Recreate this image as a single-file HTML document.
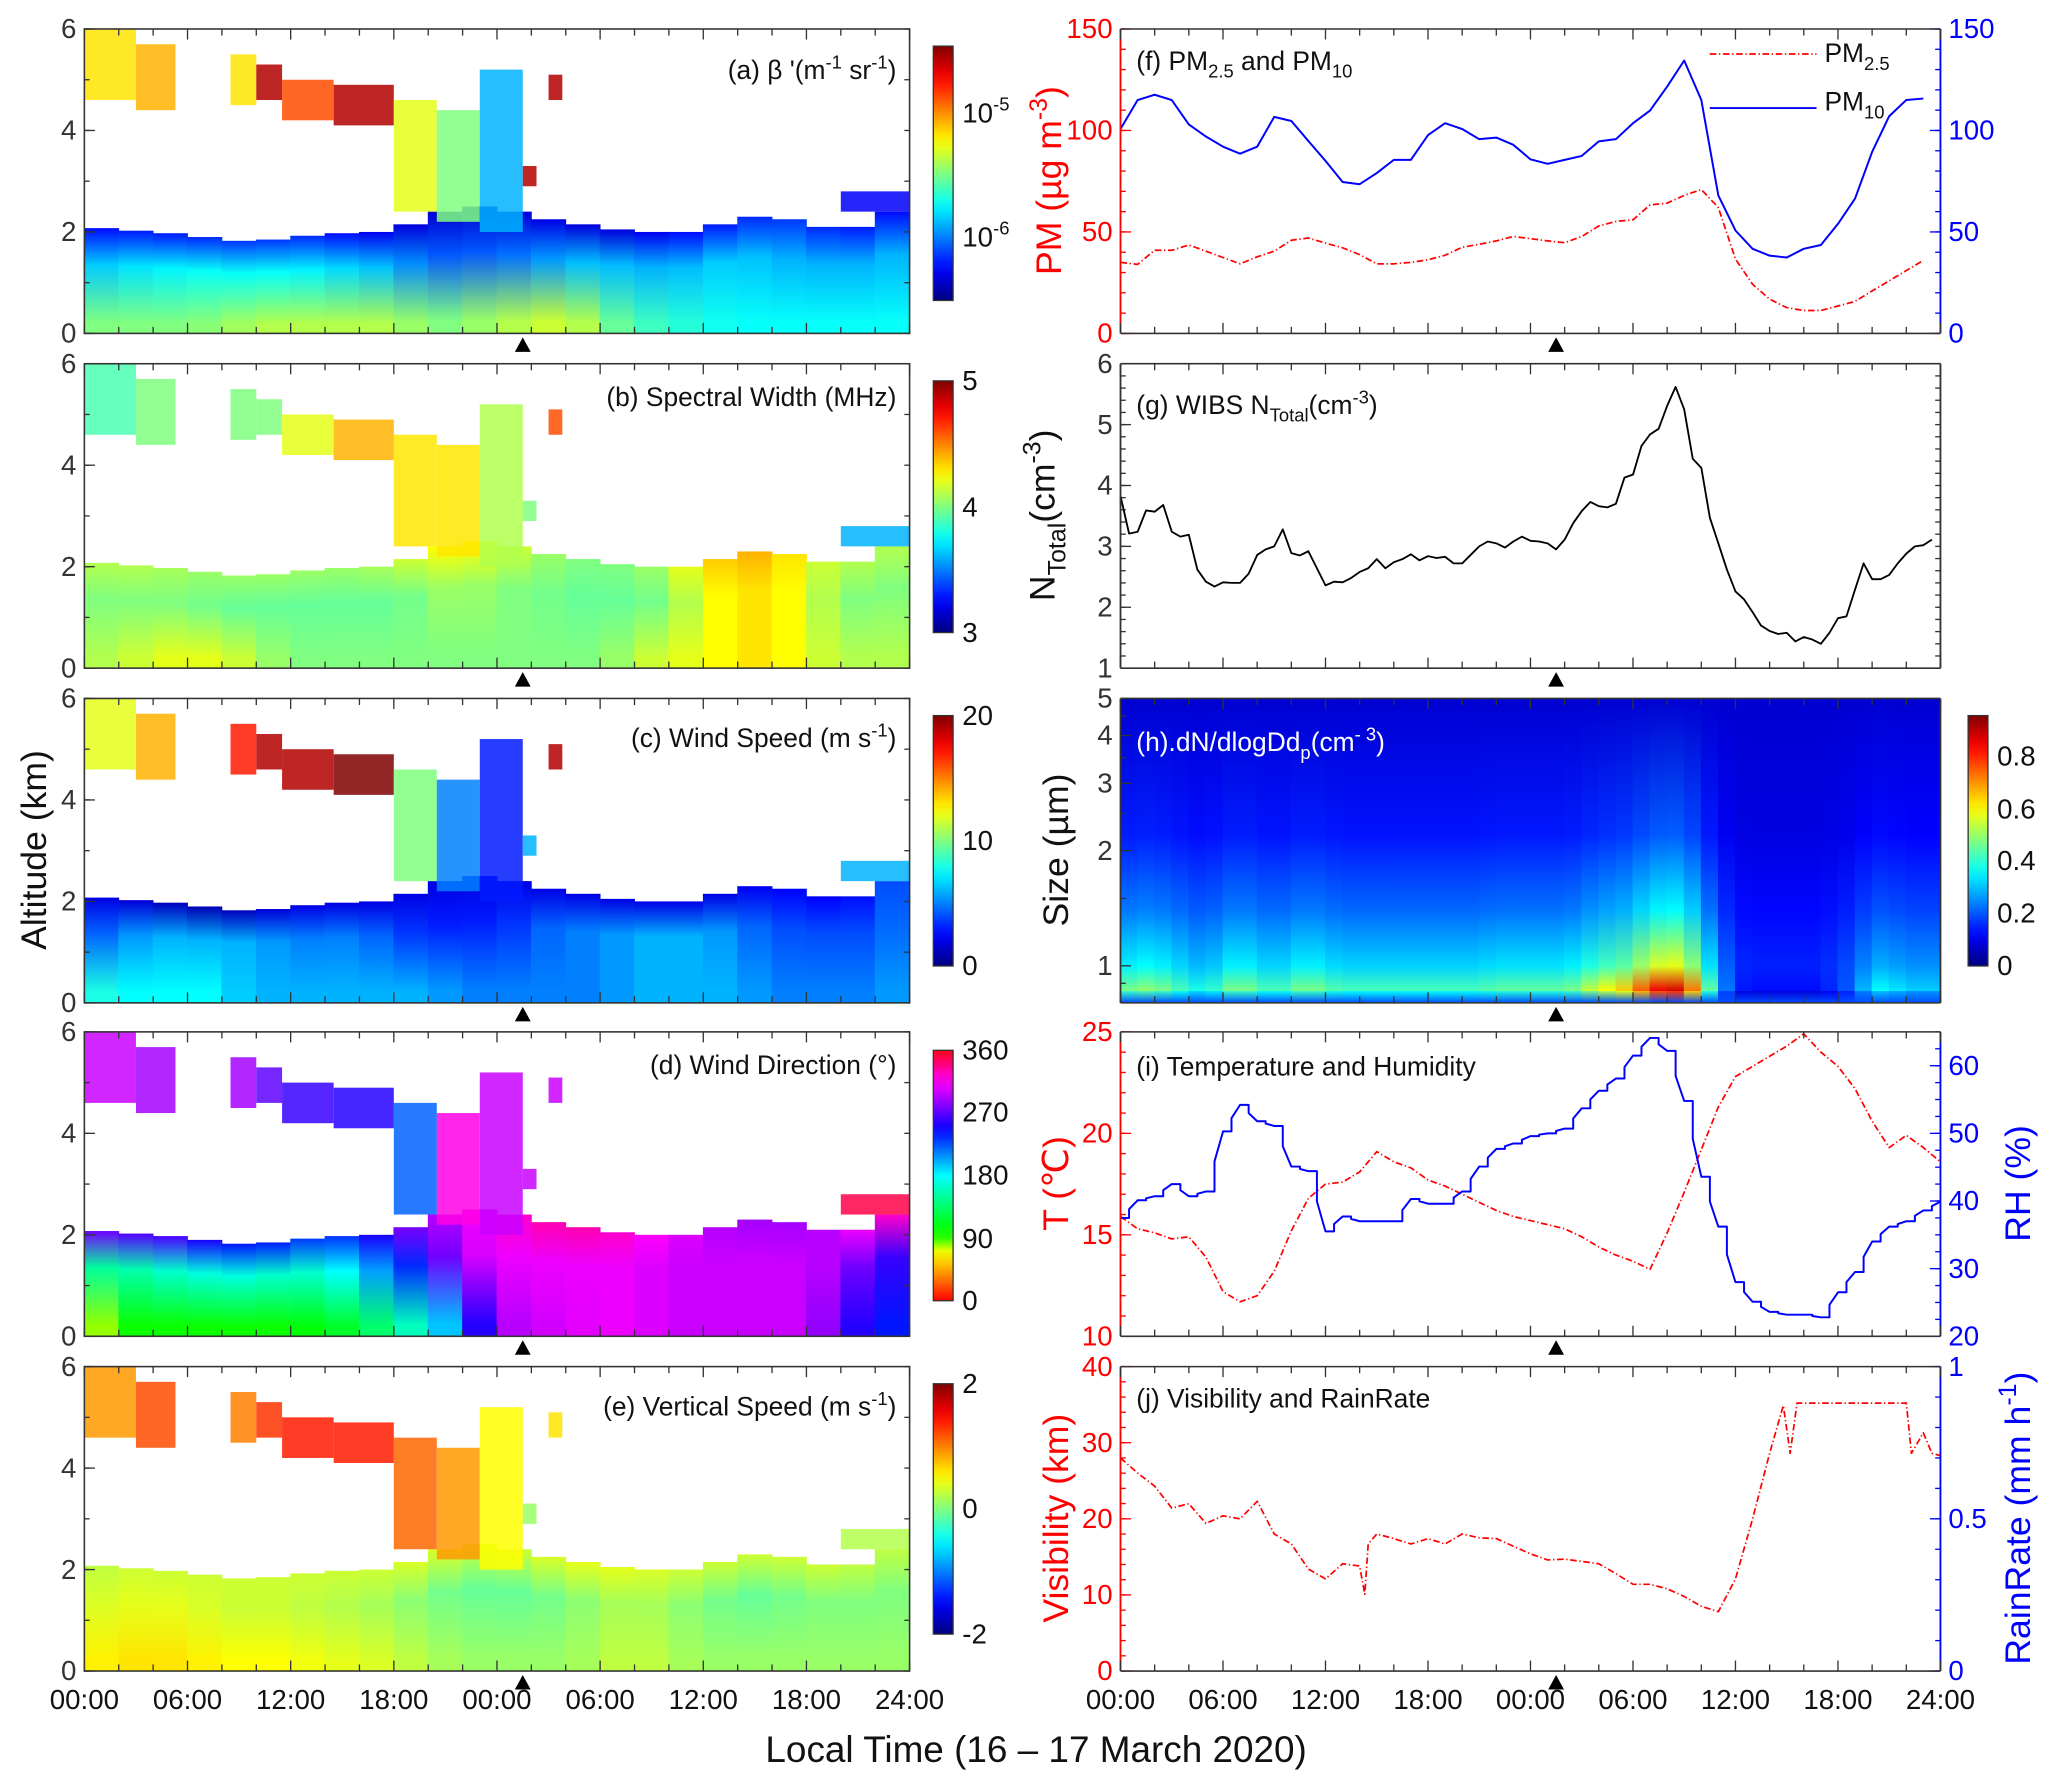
<!DOCTYPE html>
<html><head><meta charset="utf-8"><title>Lidar and surface observations</title>
<style>
html,body{margin:0;padding:0;background:#fff;}
svg{display:block;font-family:"Liberation Sans",Arial,sans-serif;}
</style></head>
<body>
<svg id="fig" xmlns="http://www.w3.org/2000/svg" width="2067" height="1787" viewBox="0 0 1568 1356" preserveAspectRatio="none">
<defs id="defs"></defs>
</svg>
<script>
// ---------------- DATA ----------------
const xTickLabels = ["00:00","06:00","12:00","18:00","00:00","06:00","12:00","18:00","24:00"];
// boundary-layer top height (km), every 2 h, 0..48 h
const blHeight = [2.1,2.05,2.0,1.95,1.85,1.8,1.9,1.95,2.0,2.0,2.3,2.5,2.5,2.3,2.2,2.1,2.0,2.0,2.0,2.3,2.3,2.2,2.0,2.2,2.6];
// cloud/upper-layer patches [t0,t1,z0,z1]
const cloudT0 = [0,3,8.5,10,11.5,14.5,18,20.5,23,25.5,27,44];
const cloudT1 = [3,5.3,10,11.5,14.5,18,20.5,23,25.5,26.3,27.8,48];
const cloudZ0 = [4.6,4.4,4.5,4.6,4.2,4.1,2.4,2.2,2.0,2.9,4.6,2.4];
const cloudZ1 = [6,5.7,5.5,5.3,5.0,4.9,4.6,4.4,5.2,3.3,5.1,2.8];
// panel (a) normalised log backscatter (0..1)
const aBottom = [0.5,0.5,0.5,0.5,0.52,0.55,0.55,0.55,0.55,0.55,0.5,0.5,0.55,0.55,0.6,0.5,0.45,0.42,0.4,0.38,0.38,0.38,0.38,0.38,0.38];
const aMid = [0.3,0.35,0.35,0.38,0.38,0.38,0.38,0.35,0.33,0.3,0.22,0.2,0.22,0.25,0.3,0.32,0.3,0.3,0.32,0.33,0.3,0.3,0.3,0.3,0.3];
const aTop = [0.12,0.15,0.15,0.15,0.18,0.18,0.18,0.15,0.12,0.1,0.08,0.08,0.08,0.1,0.1,0.08,0.1,0.12,0.15,0.15,0.18,0.18,0.15,0.15,0.12];
const aCloud = [0.65,0.7,0.65,0.95,0.8,0.95,0.6,0.5,0.3,0.95,0.95,0.12];
// panel (b) spectral width (MHz)
const bBottom = [4.1,4.1,4.2,4.2,4.2,4.1,4.0,4.0,4.0,4.0,4.0,4.0,4.0,4.0,4.0,4.0,4.1,4.2,4.2,4.3,4.3,4.2,4.1,4.1,4.1];
const bMid = [4.0,4.0,4.0,4.0,3.95,3.95,3.95,3.95,3.95,3.95,4.0,4.1,4.0,4.0,3.95,3.95,3.95,4.0,4.2,4.3,4.3,4.2,4.0,4.0,4.0];
const bTop = [4.1,4.1,4.1,4.05,4.05,4.05,4.05,4.05,4.05,4.1,4.2,4.3,4.2,4.1,4.0,4.0,4.0,4.1,4.3,4.4,4.4,4.2,4.1,4.1,4.1];
const bCloud = [3.9,4.0,4.0,4.0,4.2,4.4,4.3,4.3,4.1,4.0,4.6,3.6];
// panel (c) wind speed (m/s)
const cBottom = [8,8,7,8,7,6,6,6,6,6,6,5,5,5,5,5,6,6,6,6,5,5,5,5,6];
const cMid = [4,5,6,6,6,6,5,5,5,4,3,3,3,4,5,5,6,6,6,5,4,4,4,4,5];
const cTop = [2,2,1.5,1,1,1.5,2,2,2,2,2,2,2,2,2,2,2,2,2,2,2.5,2.5,2.5,3,5];
const cCloud = [12,14,17,19,19,20,10,5,3,6,19,6];
// panel (d) wind direction (deg)
const dBottom = [60,100,100,100,100,100,100,110,120,150,170,220,290,300,305,310,310,300,300,300,300,300,270,240,240];
const dMid = [150,150,160,170,170,170,160,170,190,220,250,300,310,310,310,310,310,300,300,300,300,300,290,260,260];
const dTop = [280,270,265,265,240,240,235,225,240,265,290,300,320,330,330,330,320,310,300,290,290,290,300,320,330];
const dCloud = [300,290,290,270,260,255,220,320,300,300,300,350];
// panel (e) vertical speed (m/s)
const eBottom = [0.5,0.6,0.6,0.6,0.5,0.5,0.5,0.4,0.4,0.3,0.2,0.1,0.1,0.1,0.1,0.2,0.3,0.2,0.1,0.1,0.1,0.1,0.1,0.1,0.1];
const eMid = [0.3,0.4,0.4,0.4,0.3,0.3,0.3,0.2,0.2,0.1,0.0,-0.1,-0.1,-0.1,0.0,0.1,0.2,0.1,0.0,-0.1,-0.1,0.0,0.0,0.0,0.0];
const eTop = [0.2,0.3,0.3,0.3,0.3,0.3,0.3,0.3,0.3,0.3,0.4,0.3,0.3,0.3,0.4,0.4,0.4,0.3,0.3,0.3,0.3,0.3,0.3,0.2,0.3];
const eCloud = [0.9,1.2,1.0,1.3,1.4,1.4,1.1,0.9,0.5,0.1,0.6,0.2];
// (f) PM, hourly from 00:00 on 16 March
const pm10 = [100.7,115,117.6,115,103,97,92,88.6,92,106.7,104.7,94.8,85,74.6,73.5,79,85.5,85.5,97.7,103.6,100.7,95.7,96.5,92.9,85.8,83.6,85.5,87.5,94.6,95.7,103.6,109.8,121.6,134.5,115,68,50.7,41.7,38.3,37.4,41.7,43.6,54,66.4,89.5,107,115,115.7];
const pm25 = [35,34,41,41,43.6,40.5,37.4,34.3,37.7,40.5,45.9,47,44.5,42.2,38.8,34.3,34.3,35,36.3,38.5,42.5,43.9,45.6,47.8,46.7,45.6,44.7,47.8,52.9,55.2,56,63.3,64.2,68,70.9,62,36.6,24.2,16.9,12.7,11.3,11.3,13.5,15.8,21,25.9,31,36];
// (g) WIBS N_total, every 0.5 h
const nTotal = [3.83,3.21,3.24,3.59,3.57,3.68,3.24,3.16,3.19,2.62,2.42,2.34,2.41,2.40,2.40,2.55,2.86,2.95,3.0,3.28,2.89,2.85,2.92,2.64,2.36,2.42,2.41,2.48,2.58,2.64,2.79,2.64,2.74,2.79,2.87,2.77,2.84,2.81,2.83,2.72,2.72,2.86,3.0,3.08,3.05,2.98,3.08,3.16,3.09,3.08,3.05,2.95,3.11,3.38,3.58,3.73,3.66,3.64,3.70,4.13,4.18,4.65,4.84,4.93,5.31,5.62,5.25,4.44,4.29,3.47,3.05,2.62,2.26,2.13,1.92,1.70,1.61,1.56,1.58,1.44,1.51,1.47,1.40,1.58,1.82,1.85,2.29,2.72,2.46,2.46,2.53,2.72,2.88,3.0,3.02,3.11];
// (h) size distribution: near-ground intensity, hourly
const hBottom = [0.45,0.5,0.5,0.45,0.4,0.35,0.45,0.5,0.45,0.4,0.45,0.5,0.45,0.42,0.42,0.42,0.42,0.42,0.42,0.42,0.42,0.42,0.45,0.45,0.45,0.45,0.45,0.5,0.6,0.62,0.7,0.85,0.92,0.9,0.6,0.3,0.12,0.1,0.1,0.1,0.1,0.1,0.15,0.2,0.35,0.35,0.3,0.3,0.3];
// (i) temperature and RH, hourly
const tempC = [15.9,15.3,15.1,14.8,14.9,13.9,12.2,11.7,12.0,13.2,15.2,16.8,17.5,17.6,18.1,19.1,18.6,18.3,17.7,17.4,17.0,16.6,16.2,15.9,15.7,15.5,15.3,14.9,14.4,14.0,13.7,13.3,15.1,17.1,19.2,21.3,22.8,23.3,23.8,24.3,24.9,24.0,23.3,22.2,20.6,19.3,19.9,19.3,18.6];
const rhPct = [37.5,40.1,40.7,42.5,40.7,41.4,50.3,54.2,51.8,51.1,45.1,44.4,35.5,37.7,37.0,37.0,37.0,40.3,39.6,39.6,41.4,45.1,47.7,48.5,49.6,50.0,50.7,53.7,56.3,58.1,61.5,64.1,62.2,54.8,43.6,36.2,28.0,25.1,23.6,23.2,23.2,22.8,26.5,29.5,34.0,36.2,37.0,38.6,39.9];
// (j) visibility
const visTime = [0,1,2,3,4,5,6,7,8,9,10,11,12,13,14,14.3,14.5,15,16,17,18,19,20,21,22,23,24,25,26,27,28,29,30,31,32,33,34,35,36,37,38,38.8,39.2,39.6,40,46,46.3,47,47.5,48];
const visKm = [28.0,26.0,24.3,21.4,22.0,19.4,20.4,20.0,22.3,18.0,16.7,13.4,12.1,14.1,13.8,10.1,16.7,18.0,17.4,16.7,17.4,16.7,18.0,17.5,17.4,16.4,15.4,14.6,14.7,14.4,14.1,12.8,11.4,11.4,10.8,9.8,8.5,7.8,12.1,20.0,28.6,34.9,28.6,35.2,35.2,35.2,28.6,31.3,28.6,28.3];
const markerTime = 25.5;

// ---------------- RENDER ----------------
const NS = "http://www.w3.org/2000/svg";
const svg = document.getElementById("fig");
const defs = document.getElementById("defs");
function mk(tag, attrs, parent) {
  const el = document.createElementNS(NS, tag);
  for (const k in attrs) el.setAttribute(k, attrs[k]);
  (parent || svg).appendChild(el);
  return el;
}
function clamp(v){return Math.max(0,Math.min(1,v));}
function jet(v){
  v = clamp(v);
  const r = clamp(1.5-Math.abs(4*v-3)), g = clamp(1.5-Math.abs(4*v-2)), b = clamp(1.5-Math.abs(4*v-1));
  return `rgb(${Math.round(r*255)},${Math.round(g*255)},${Math.round(b*255)})`;
}
const hueStops = [[0,0],[45,40],[70,60],[90,110],[180,180],[240,235],[270,262],[315,300],[360,355]];
function dirColor(d){
  d = Math.max(0,Math.min(360,d));
  for (let i=1;i<hueStops.length;i++){
    if (d<=hueStops[i][0]){
      const a=hueStops[i-1], b=hueStops[i];
      const h = a[1]+(b[1]-a[1])*(d-a[0])/(b[0]-a[0]);
      return `hsl(${h},100%,50%)`;
    }
  }
  return "hsl(355,100%,50%)";
}

const LX0=64, LX1=690, RX0=850, RX1=1472;
const tops=[22,276,530,783,1037], PH=231;
const xL = t => LX0 + t/48*(LX1-LX0);
const xR = t => RX0 + t/48*(RX1-RX0);

function addText(x,y,parts,opts,name){
  const t = mk("text",{x:x,y:y,"font-size":opts.size||20,fill:opts.fill||"#111","text-anchor":opts.anchor||"start"});
  if (opts.rotate) t.setAttribute("transform",`rotate(-90 ${x} ${y})`);
  
  
  let shift=0;
  parts.forEach(p=>{
    const s = mk("tspan",{},t);
    const target = p[1]==="sup" ? -0.4 : p[1]==="sub" ? 0.3 : 0;
    const fs = (opts.size||20)*(p[1]?0.7:1);
    s.setAttribute("font-size",fs);
    const dy = (target-shift)*(opts.size||20);
    if (dy!==0) s.setAttribute("dy",dy.toFixed(1));
    shift = target;
    s.textContent = p[0];
  });
  return t;
}

function xTicks(x0,x1,top,bot,scale,labels,g){
  for (let h=0; h<=48; h+=2){
    const x = scale(h);
    const len = (h%6===0)?8:5;
    const a = mk("line",{x1:x,y1:bot,x2:x,y2:bot-len,stroke:"#333","stroke-width":1},g);
    
    
    const b = mk("line",{x1:x,y1:top,x2:x,y2:top+len,stroke:"#333","stroke-width":1},g);
    
    
  }
  if (labels){
    labels.forEach((lab,i)=>{
      const t = mk("text",{x:scale(i*6),y:bot+29,"font-size":21,"text-anchor":"middle",fill:"#111"},g);
      
      
      t.textContent = lab;
    });
  }
  const tri = mk("polygon",{points:`${scale(markerTime)-6},${bot+14} ${scale(markerTime)+6},${bot+14} ${scale(markerTime)},${bot+3}`,fill:"#000"},g);
  
  
}

function yAxis(g,side,x,top,bot,vmin,vmax,majors,minorStep,color,labelFmt,isLog){
  const ys = v => isLog ? bot-(Math.log10(v)-Math.log10(vmin))/(Math.log10(vmax)-Math.log10(vmin))*(bot-top)
                        : bot-(v-vmin)/(vmax-vmin)*(bot-top);
  const dir = side==="left"?1:-1;
  if (minorStep){
    for (let v=vmin; v<=vmax+1e-9; v+=minorStep){
      const y=ys(v);
      const m = mk("line",{x1:x,y1:y,x2:x+dir*4,y2:y,stroke:color,"stroke-width":1},g);
      
      
    }
  }
  majors.forEach(v=>{
    const y=ys(v);
    const m = mk("line",{x1:x,y1:y,x2:x+dir*8,y2:y,stroke:color,"stroke-width":1},g);
    
    
    const t = mk("text",{x: side==="left"? x-6 : x+6, y:y+7,"font-size":21,"text-anchor":side==="left"?"end":"start",fill:color},g);
    
    
    t.textContent = labelFmt ? labelFmt(v) : String(v);
  });
  return ys;
}

// -------- LEFT HEATMAP PANELS --------
const leftPanels = [
  {key:"a", bottom:aBottom, mid:aMid, top:aTop, cloud:aCloud, col:v=>jet(v)},
  {key:"b", bottom:bBottom, mid:bMid, top:bTop, cloud:bCloud, col:v=>jet((v-3)/2)},
  {key:"c", bottom:cBottom, mid:cMid, top:cTop, cloud:cCloud, col:v=>jet(v/20)},
  {key:"d", bottom:dBottom, mid:dMid, top:dTop, cloud:dCloud, col:v=>dirColor(v)},
  {key:"e", bottom:eBottom, mid:eMid, top:eTop, cloud:eCloud, col:v=>jet((v+2)/4)}
];
leftPanels.forEach((p,pi)=>{
  const top = tops[pi], bot = top+PH;
  const g = mk("g",{});
  
  
  const yz = z => bot - z/6*PH;
  for (let i=0;i<24;i++){
    const gid = `grad-${p.key}-${i}`;
    const lg = mk("linearGradient",{id:gid,x1:0,y1:0,x2:0,y2:1},defs);
    const c1 = p.col((p.top[i]+p.top[i+1])/2), c2 = p.col((p.mid[i]+p.mid[i+1])/2), c3 = p.col((p.bottom[i]+p.bottom[i+1])/2);
    mk("stop",{offset:0,"stop-color":c1},lg);
    mk("stop",{offset:0.35,"stop-color":c2},lg);
    mk("stop",{offset:0.9,"stop-color":c3},lg);
    mk("stop",{offset:1,"stop-color":c3},lg);
    const h = (blHeight[i]+blHeight[i+1])/2;
    const r = mk("rect",{x:xL(2*i)-0.3,y:yz(h),width:xL(2*i+2)-xL(2*i)+0.6,height:yz(0)-yz(h),fill:`url(#${gid})`},g);
    
    
  }
  for (let k=0;k<cloudT0.length;k++){
    const r = mk("rect",{x:xL(cloudT0[k]),y:yz(cloudZ1[k]),width:xL(cloudT1[k])-xL(cloudT0[k]),height:yz(cloudZ0[k])-yz(cloudZ1[k]),fill:p.col(p.cloud[k]),opacity:0.85},g);
    
    
  }
  const fr = mk("rect",{x:LX0,y:top,width:LX1-LX0,height:PH,fill:"none",stroke:"#333","stroke-width":1.2},g);
  
  
  yAxis(g,"left",LX0,top,bot,0,6,[0,2,4,6],1,"#333");
  yAxis(g,"right",LX1,top,bot,0,6,[],1,"#333");
  xTicks(LX0,LX1,top,bot,xL,pi===4?xTickLabels:null,g);
});

// colorbars
function colorbar(name,y0,y1,colFn,labels,labelY){
  const x=708,w=15;
  const gid = "cb-"+name;
  const lg = mk("linearGradient",{id:gid,x1:0,y1:1,x2:0,y2:0},defs);
  for (let i=0;i<=20;i++) mk("stop",{offset:i/20,"stop-color":colFn(i/20)},lg);
  const r = mk("rect",{x:name==="h"?1493:x,y:y0,width:w,height:y1-y0,fill:`url(#${gid})`,stroke:"#333","stroke-width":1});
  
  
  labels.forEach((lab,i)=>{
    const t = mk("text",{x:(name==="h"?1493:x)+w+7,y:labelY[i]+7,"font-size":21,fill:"#111"});
    
    
    if (Array.isArray(lab)){
      const a=mk("tspan",{},t); a.textContent=lab[0];
      const b=mk("tspan",{dy:-9,"font-size":14},t); b.textContent=lab[1];
    } else t.textContent = lab;
  });
}
colorbar("a",35,228,v=>jet(v),[["10","-5"],["10","-6"]],[86,180]);
colorbar("b",289,480,v=>jet(v),["5","4","3"],[289,385,480]);
colorbar("c",543,733,v=>jet(v),["20","10","0"],[543,638,733]);
colorbar("d",797,987,v=>dirColor(v*360),["360","270","180","90","0"],[797,844,892,940,987]);
colorbar("e",1050,1240,v=>jet(v),["2","0","-2"],[1050,1145,1240]);
colorbar("h",543,733,v=>jet(v),["0.8","0.6","0.4","0.2","0"],[574,614,653,693,733]);

// left panel labels
addText(680,60,[["(a) β '(m"],["-1","sup"],[" sr"],["-1","sup"],[")"]],{anchor:"end"},"panel-a-title");
addText(680,308,[["(b) Spectral Width (MHz)"]],{anchor:"end"},"panel-b-title");
addText(680,567,[["(c) Wind Speed (m s"],["-1","sup"],[")"]],{anchor:"end"},"panel-c-title");
addText(680,815,[["(d) Wind Direction (°)"]],{anchor:"end"},"panel-d-title");
addText(680,1074,[["(e) Vertical Speed (m s"],["-1","sup"],[")"]],{anchor:"end"},"panel-e-title");
addText(35,645,[["Altitude (km)"]],{size:27,anchor:"middle",rotate:true},"y-axis-title-altitude");
addText(786,1337,[["Local Time (16 – 17 March 2020)"]],{size:28,anchor:"middle"},"x-axis-title");

// -------- RIGHT PANELS --------
function line(g,pts,color,dash,name,w){
  const p = mk("polyline",{points:pts.map(q=>q[0].toFixed(1)+","+q[1].toFixed(1)).join(" "),fill:"none",stroke:color,"stroke-width":w||1.5,"stroke-dasharray":dash||"none","stroke-linejoin":"round"},g);
  
  
}
function frame(g,top,lc,rc){
  const bot=top+PH;
  const a=mk("line",{x1:RX0,y1:top,x2:RX1,y2:top,stroke:"#333","stroke-width":1.2},g);
   
  const b=mk("line",{x1:RX0,y1:bot,x2:RX1,y2:bot,stroke:"#333","stroke-width":1.2},g);
   
  const c=mk("line",{x1:RX0,y1:top,x2:RX0,y2:bot,stroke:lc,"stroke-width":1.4},g);
   
  const d=mk("line",{x1:RX1,y1:top,x2:RX1,y2:bot,stroke:rc,"stroke-width":1.4},g);
   
}

// (f)
{
  const top=tops[0], bot=top+PH;
  const g=mk("g",{});  
  const yl = yAxis(g,"left",RX0,top,bot,0,150,[0,50,100,150],10,"#f00");
  yAxis(g,"right",RX1,top,bot,0,150,[0,50,100,150],10,"#00f");
  line(g,pm25.map((v,i)=>[xR(i),yl(v)]),"#f00","5 2 1 2","pm25-line",1.3);
  line(g,pm10.map((v,i)=>[xR(i),yl(v)]),"#00f",null,"pm10-line",1.5);
  frame(g,top,"#f00","#00f");
  xTicks(RX0,RX1,top,bot,xR,null,g);
  line(g,[[1297,41],[1378,41]],"#f00","5 2 1 2","legend-pm25-swatch",1.3);
  line(g,[[1297,82],[1378,82]],"#00f",null,"legend-pm10-swatch",1.5);
  addText(1384,47,[["PM"],["2.5","sub"]],{},"legend-pm25-label");
  addText(1384,84,[["PM"],["10","sub"]],{},"legend-pm10-label");
  addText(862,53,[["(f) PM"],["2.5","sub"],[" and PM"],["10","sub"]],{},"panel-f-title");
  addText(805,137,[["PM (µg m"],["-3","sup"],[")"]],{size:27,anchor:"middle",fill:"#f00",rotate:true},"y-axis-title-pm");
}
// (g)
{
  const top=tops[1], bot=top+PH;
  const g=mk("g",{});  
  const yl = yAxis(g,"left",RX0,top,bot,1,6,[1,2,3,4,5,6],0.2,"#333");
  yAxis(g,"right",RX1,top,bot,1,6,[],0.2,"#333");
  line(g,nTotal.map((v,i)=>[xR(i*0.5),yl(v)]),"#000",null,"ntotal-line",1.4);
  frame(g,top,"#333","#333");
  xTicks(RX0,RX1,top,bot,xR,null,g);
  addText(862,314,[["(g) WIBS N"],["Total","sub"],["(cm"],["-3","sup"],[")"]],{},"panel-g-title");
  addText(800,391,[["N"],["Total","sub"],["(cm"],["-3","sup"],[")"]],{size:27,anchor:"middle",rotate:true},"y-axis-title-ntotal");
}
// (h)
{
  const top=tops[2], bot=top+PH;
  const g=mk("g",{});  
  const bg = mk("rect",{x:RX0,y:top,width:RX1-RX0,height:PH,fill:jet(0.08)},g);
   
  const ys = v => bot-(Math.log10(v)-Math.log10(0.8))/(Math.log10(5)-Math.log10(0.8))*PH;
  const f = (ys(2.2)-top)/PH, f2=(ys(1.4)-top)/PH, f3=(ys(1.0)-top)/PH, f4=(ys(0.86)-top)/PH;
  for (let i=0;i<48;i++){
    const v = (hBottom[i]+hBottom[i+1])/2;
    const gid = "gh-"+i;
    const lg = mk("linearGradient",{id:gid,x1:0,y1:0,x2:0,y2:1},defs);
    mk("stop",{offset:0,"stop-color":jet(0.08)},lg);
    mk("stop",{offset:f,"stop-color":jet(0.08+v*0.15)},lg);
    mk("stop",{offset:f2,"stop-color":jet(0.1+v*0.3)},lg);
    mk("stop",{offset:f3,"stop-color":jet(0.1+v*0.55)},lg);
    mk("stop",{offset:f4,"stop-color":jet(v*0.96+0.04)},lg);
    mk("stop",{offset:0.96,"stop-color":jet(v*0.9)},lg);
    mk("stop",{offset:1,"stop-color":jet(0.2)},lg);
    const r = mk("rect",{x:xR(i)-0.3,y:top,width:xR(i+1)-xR(i)+0.6,height:PH,fill:`url(#${gid})`},g);
    
    
  }
  yAxis(g,"left",RX0,top,bot,0.8,5,[1,2,3,4,5],null,"#333",null,true);
  [0.9,1.5,2.5,3.5,4.5].forEach(v=>{
    const m=mk("line",{x1:RX0,y1:ys(v),x2:RX0+4,y2:ys(v),stroke:"#333"},g);
     
  });
  frame(g,top,"#333","#333");
  xTicks(RX0,RX1,top,bot,xR,null,g);
  addText(862,570,[["(h).dN/dlogDd"],["p","sub"],["(cm"],["-  3","sup"],[")"]],{fill:"#fff"},"panel-h-title");
  addText(810,645,[["Size (µm)"]],{size:27,anchor:"middle",rotate:true},"y-axis-title-size");
}
// (i)
{
  const top=tops[3], bot=top+PH;
  const g=mk("g",{});  
  const yt = yAxis(g,"left",RX0,top,bot,10,25,[10,15,20,25],1,"#f00");
  const yr = yAxis(g,"right",RX1,top,bot,20,65,[20,30,40,50,60],2.5,"#00f");
  line(g,tempC.map((v,i)=>[xR(i),yt(v)]),"#f00","5 2 1 2","temperature-line",1.3);
  const pts=[]; rhPct.forEach((v,i)=>{pts.push([xR(i),yr(v)]); if(i<rhPct.length-1){pts.push([xR(i+0.5),yr(v)]);pts.push([xR(i+0.5),yr((v+rhPct[i+1])/2)]);}});
  line(g,pts,"#00f",null,"rh-line",1.5);
  frame(g,top,"#f00","#00f");
  xTicks(RX0,RX1,top,bot,xR,null,g);
  addText(862,816,[["(i) Temperature and Humidity"]],{},"panel-i-title");
  addText(810,898,[["T (℃)"]],{size:27,anchor:"middle",fill:"#f00",rotate:true},"y-axis-title-temperature");
  addText(1540,898,[["RH (%)"]],{size:27,anchor:"middle",fill:"#00f",rotate:true},"y-axis-title-rh");
}
// (j)
{
  const top=tops[4], bot=top+PH;
  const g=mk("g",{});  
  const yv = yAxis(g,"left",RX0,top,bot,0,40,[0,10,20,30,40],2,"#f00");
  yAxis(g,"right",RX1,top,bot,0,1,[0,0.5,1],0.1,"#00f");
  line(g,visTime.map((t,i)=>[xR(t),yv(visKm[i])]),"#f00","5 2 1 2","visibility-line",1.3);
  frame(g,top,"#f00","#00f");
  xTicks(RX0,RX1,top,bot,xR,xTickLabels,g);
  addText(862,1068,[["(j) Visibility and RainRate"]],{},"panel-j-title");
  addText(810,1152,[["Visibility (km)"]],{size:27,anchor:"middle",fill:"#f00",rotate:true},"y-axis-title-visibility");
  addText(1540,1152,[["RainRate (mm h"],["-1","sup"],[")"]],{size:27,anchor:"middle",fill:"#00f",rotate:true},"y-axis-title-rainrate");
}
</script>
</body></html>
